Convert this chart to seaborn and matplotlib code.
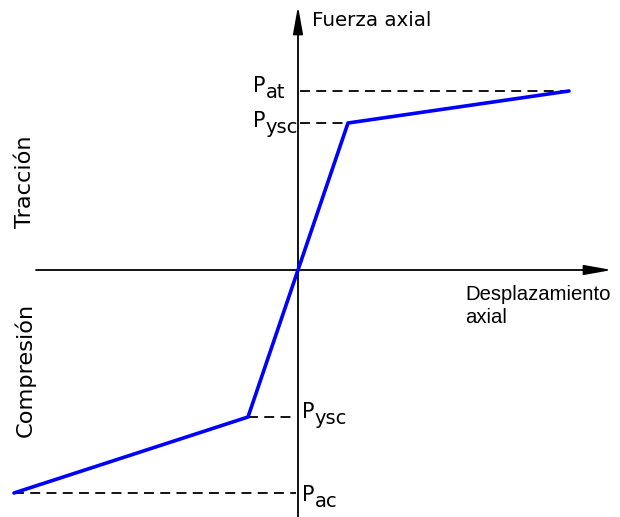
import matplotlib
matplotlib.use("Agg")
import matplotlib.pyplot as plt
import seaborn as sns
import pandas as pd

sns.set_theme(style="white")
plt.rcParams['font.family'] = ['DejaVu Sans']
plt.rcParams['text.color'] = 'black'

# Curve: axial displacement vs axial force (arbitrary units)
disp = [-284, -50, 0, 50, 271]
force = [-223, -147, 0, 147, 179]

# Reference levels
P_at, P_ysc_t, P_ysc_c, P_ac = 179, 147, -147, -223
x_at, x_ysc_t, x_ysc_c, x_ac = 271, 50, -50, -284

df = pd.DataFrame({"disp": disp, "force": force})

fig = plt.figure(figsize=(6.2, 5.17), dpi=100)
ax = fig.add_axes([0, 0, 1, 1])
ax.set_xlim(-298, 322)
ax.set_ylim(-247, 270)
ax.axis("off")

# dashed reference lines
dash = dict(color="black", lw=1.3, ls=(0, (5.5, 3.5)), zorder=1)
ax.plot([2, x_at], [P_at, P_at], **dash)
ax.plot([2, x_ysc_t], [P_ysc_t, P_ysc_t], **dash)
ax.plot([x_ysc_c, -2], [P_ysc_c, P_ysc_c], **dash)
ax.plot([x_ac, -2], [P_ac, P_ac], **dash)

# axes with arrows
ax.annotate("", xy=(314, 0), xytext=(-262, 0),
            arrowprops=dict(arrowstyle="-|>,head_length=1.4,head_width=0.25",
                            color="black", lw=1.3, shrinkA=0, shrinkB=0))
ax.annotate("", xy=(0, 264), xytext=(0, -247),
            arrowprops=dict(arrowstyle="-|>,head_length=1.4,head_width=0.25",
                            color="black", lw=1.3, shrinkA=0, shrinkB=0))

sns.lineplot(data=df, x="disp", y="force", sort=False, color="#0000ff",
             lw=2.6, ax=ax, zorder=3)
ax.set_xlabel("")
ax.set_ylabel("")

def plabel(x, y, sub):
    t = ax.text(x, y, "P", fontsize=15, ha="left", va="baseline", color="black")
    fig.canvas.draw()
    bb = t.get_window_extent()
    inv = ax.transData.inverted()
    xr = inv.transform((bb.x1, 0))[0]
    ax.text(xr, y - 6, sub, fontsize=14, ha="left", va="baseline", color="black")

plabel(-45, 178, "at")
plabel(-45, 143, "ysc")
plabel(4, -148, "ysc")
plabel(4, -231, "ac")

ax.text(14, 250, "Fuerza axial", fontsize=14.3, ha="left", va="center", color="black")
ax.text(167, -30, "Desplazamiento", fontsize=14.6, ha="left",
        va="baseline", family="Liberation Sans", color="black")
ax.text(167, -53, "axial", fontsize=14.6, ha="left",
        va="baseline", family="Liberation Sans", color="black")
ax.text(-273, 88, "Tracción", fontsize=16.2, rotation=90, ha="center", va="center", color="black")
ax.text(-273, -100, "Compresión", fontsize=16.2, rotation=90, ha="center", va="center", color="black")

fig.savefig("out.png", dpi=100)
